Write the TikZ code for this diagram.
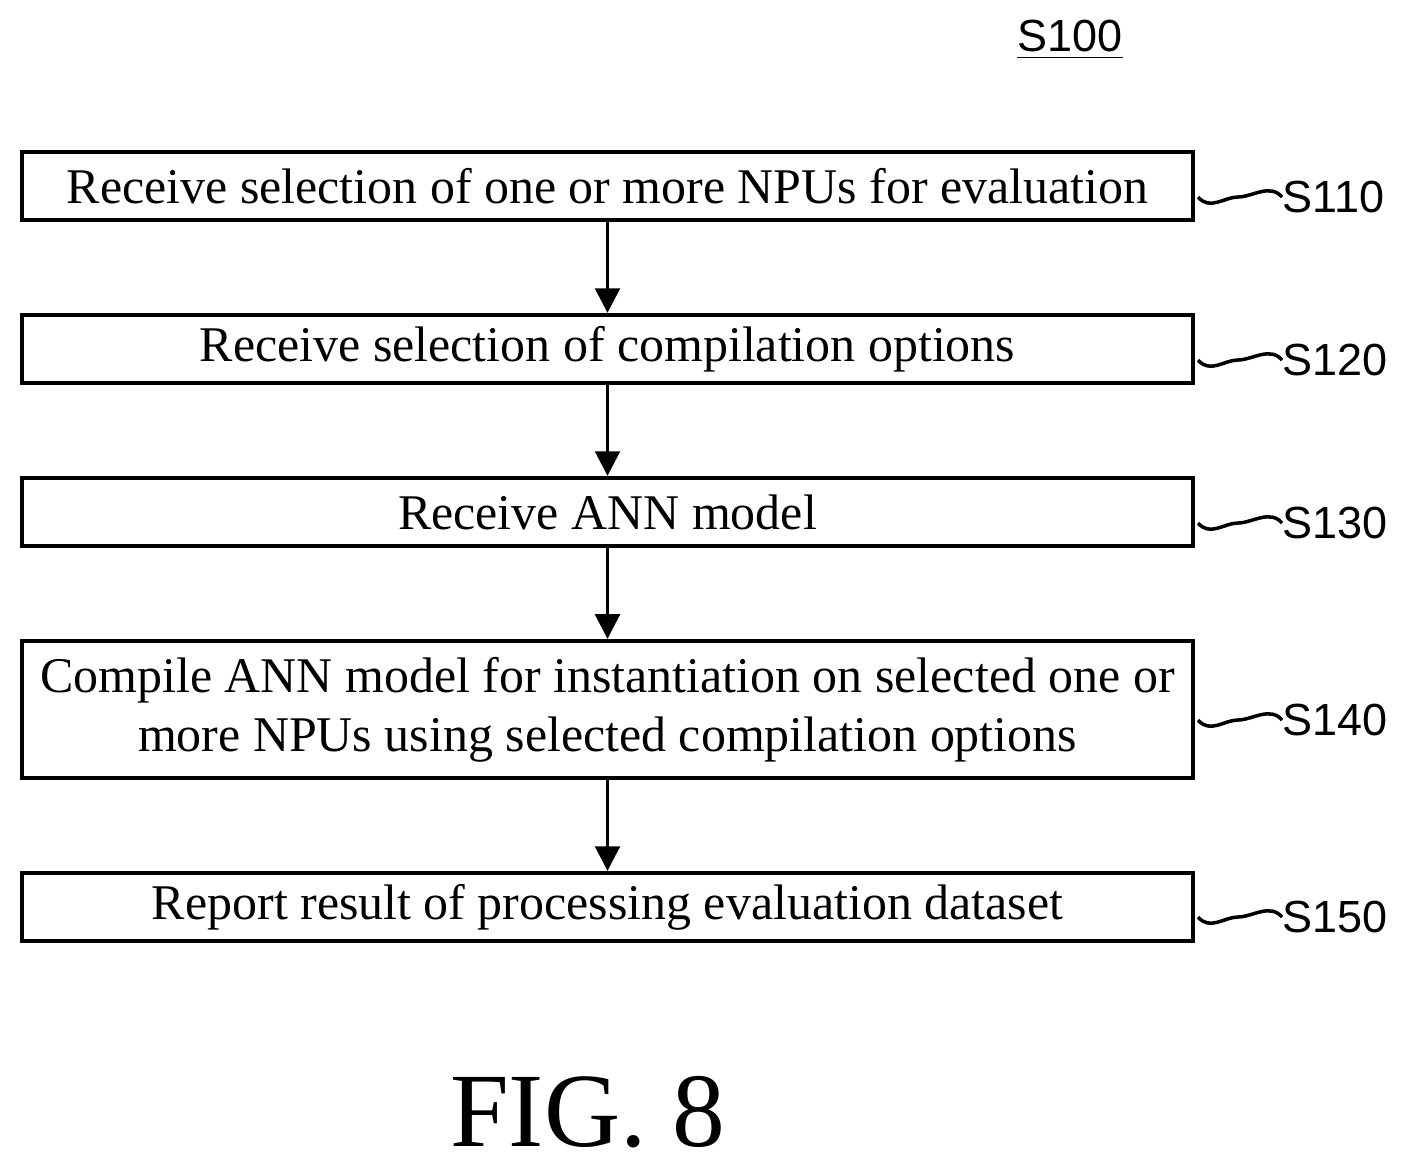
\documentclass[tikz,border=0pt]{standalone}
\usepackage{fontspec}
\setmainfont{Liberation Serif}
\newfontfamily\labelfont{Liberation Sans}
\usetikzlibrary{arrows.meta}
\tikzset{
  stepbox/.style={draw, line width=1.2pt, minimum width=11.71cm, inner sep=0pt, align=center,
    font=\fontsize{14.2}{16.8}\selectfont},
  flow/.style={-{Triangle[length=7pt,width=7pt]}, line width=1pt},
  tag/.style={anchor=west, inner sep=0pt, font=\labelfont\fontsize{12.8}{14}\selectfont},
  wave/.style={line width=1pt}
}
\begin{document}
\begin{tikzpicture}[x=0.01cm, y=-0.01cm]
	\useasboundingbox (0,0) rectangle (1406,1175);
	
	% steps
	\node[stepbox, minimum height=0.68cm] (s110) at (607.5,186) {Receive selection of one or more NPUs for evaluation};
	\node[stepbox, minimum height=0.68cm] (s120) at (607.5,349) {Receive selection of compilation options};
	\node[stepbox, minimum height=0.68cm] (s130) at (607.5,512) {Receive ANN model};
	\node[stepbox, minimum height=1.37cm] (s140) at (607.5,709.5) {Compile ANN model for instantiation on selected one or\\more NPUs using selected compilation options};
	\node[stepbox, minimum height=0.68cm] (s150) at (607.5,907) {Report result of processing evaluation dataset};
	
	\draw[flow] (s110) -- (s120);
	\draw[flow] (s120) -- (s130);
	\draw[flow] (s130) -- (s140);
	\draw[flow] (s140) -- (s150);
	
	% labels
	\foreach \s/\yy in {S110/197, S120/360, S130/523, S140/720, S150/917}{
		\coordinate (w\s) at (1198,\yy);
		\node[tag] (t\s) at (1282,\yy) {\s};
		\draw[wave] (w\s) .. controls +(12,14) and +(-14,0) .. +(40,0) .. controls +(14,0) and +(-12,-14) .. (t\s.west);
	}
	
	\node[font=\labelfont\fontsize{12.8}{14}\selectfont, inner sep=1pt] (s100) at (1070,40) {\underline{S100}};
	\node[font=\fontsize{30}{34}\selectfont] (fig) at (588,1112) {FIG. 8};
\end{tikzpicture}
\end{document}
